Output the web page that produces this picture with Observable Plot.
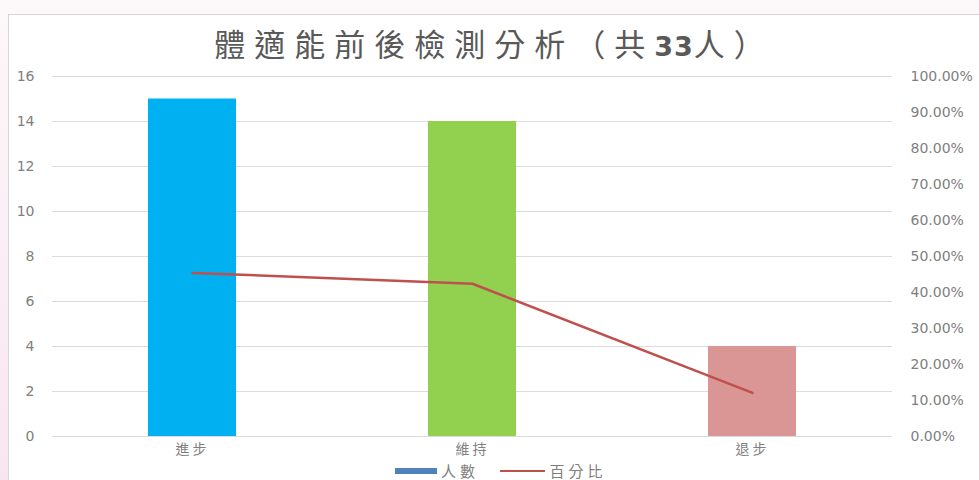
<!DOCTYPE html>
<html>
<head>
<meta charset="utf-8">
<script src="https://cdn.jsdelivr.net/npm/d3@7"></script>
<script src="https://cdn.jsdelivr.net/npm/@observablehq/plot@0.6"></script>
<style>
  html, body { margin: 0; padding: 0; width: 979px; height: 480px; overflow: hidden; }
  body { background: linear-gradient(to bottom, #fdf8fa, #f8e6ef); position: relative; }
  #box { position: absolute; left: 8px; top: 14px; width: 990px; height: 480px; background: #fff;
         border-top: 1px solid #d6d6d6; border-left: 1px solid #d6d6d6; box-sizing: border-box; }
  #title { width: 970px; height: 55px; line-height: 55px; text-align: center; color: #595959;
           font-family: "Noto Sans CJK TC", sans-serif; font-size: 31px; letter-spacing: 9px; white-space: nowrap; }
  #title b { font-family: "DejaVu Sans", sans-serif; font-weight: bold; letter-spacing: 1px; font-size: 27px; }
  #chart svg { display: block; overflow: visible; }
  #chart [aria-label="x-axis tick label"] text { letter-spacing: 3px; }
  #legend { position: absolute; left: 386px; top: 446px; height: 16px; line-height: 16px; white-space: nowrap;
            font-family: "Noto Sans CJK TC", sans-serif; font-size: 15px; letter-spacing: 4px; color: #7f7f7f; }
  #legend span { display: inline-block; vertical-align: middle; }
</style>
</head>
<body>
<div id="box">
  <div id="title">體適能前後檢測分析（共<b>33</b>人）</div>
  <div id="chart"></div>
  <div id="legend">
    <span style="width:42px;height:6px;background:#4F81BD;margin-right:4px;"></span><span id="lg1"></span>
    <span style="width:45px;height:2.5px;background:#C0504D;margin-left:14px;margin-right:4px;"></span><span id="lg2"></span>
  </div>
</div>
<script>
const categories = ["進步", "維持", "退步"];
const counts = [15, 14, 4];
const percents = [45.45, 42.42, 12.12];
const barColors = ["#00B0F0", "#92D050", "#DA9694"];
const countTicks = [0, 2, 4, 6, 8, 10, 12, 14, 16];
const pctTicks = [0, 10, 20, 30, 40, 50, 60, 70, 80, 90, 100];
const seriesNames = ["人數", "百分比"];
const yMax = 16;

document.getElementById("lg1").textContent = seriesNames[0];
document.getElementById("lg2").textContent = seriesNames[1];

const data = categories.map((c, i) => ({cat: c, count: counts[i], pct: percents[i], color: barColors[i]}));

const chart = Plot.plot({
  width: 970,
  height: 392,
  marginLeft: 43,
  marginRight: 87,
  marginTop: 6,
  marginBottom: 26,
  x: {domain: categories, paddingInner: 0.686, paddingOuter: 0.343, axis: null},
  y: {domain: [0, yMax], axis: null},
  color: {type: "identity"},
  style: {background: "transparent", color: "#808080", fontFamily: "DejaVu Sans, sans-serif", fontSize: "14px"},
  marks: [
    Plot.ruleY(countTicks, {stroke: "#dcdcdc", strokeWidth: 1}),
    Plot.barY(data, {x: "cat", y: "count", fill: "color"}),
    Plot.line(data, {x: "cat", y: d => d.pct / 100 * yMax, stroke: "#C0504D", strokeWidth: 2.5}),
    Plot.axisY(countTicks, {anchor: "left", tickSize: 0, tickPadding: 18, label: null}),
    Plot.axisY(pctTicks.map(p => p / 100 * yMax), {anchor: "right", tickSize: 0, tickPadding: 18, label: null,
      tickFormat: d => (d / yMax * 100).toFixed(2) + "%"}),
    Plot.axisX({anchor: "bottom", tickSize: 0, tickPadding: 8, label: null, fontSize: 14,
      fontFamily: "Noto Sans CJK TC, sans-serif"})
  ]
});
document.getElementById("chart").appendChild(chart);
</script>
</body>
</html>
